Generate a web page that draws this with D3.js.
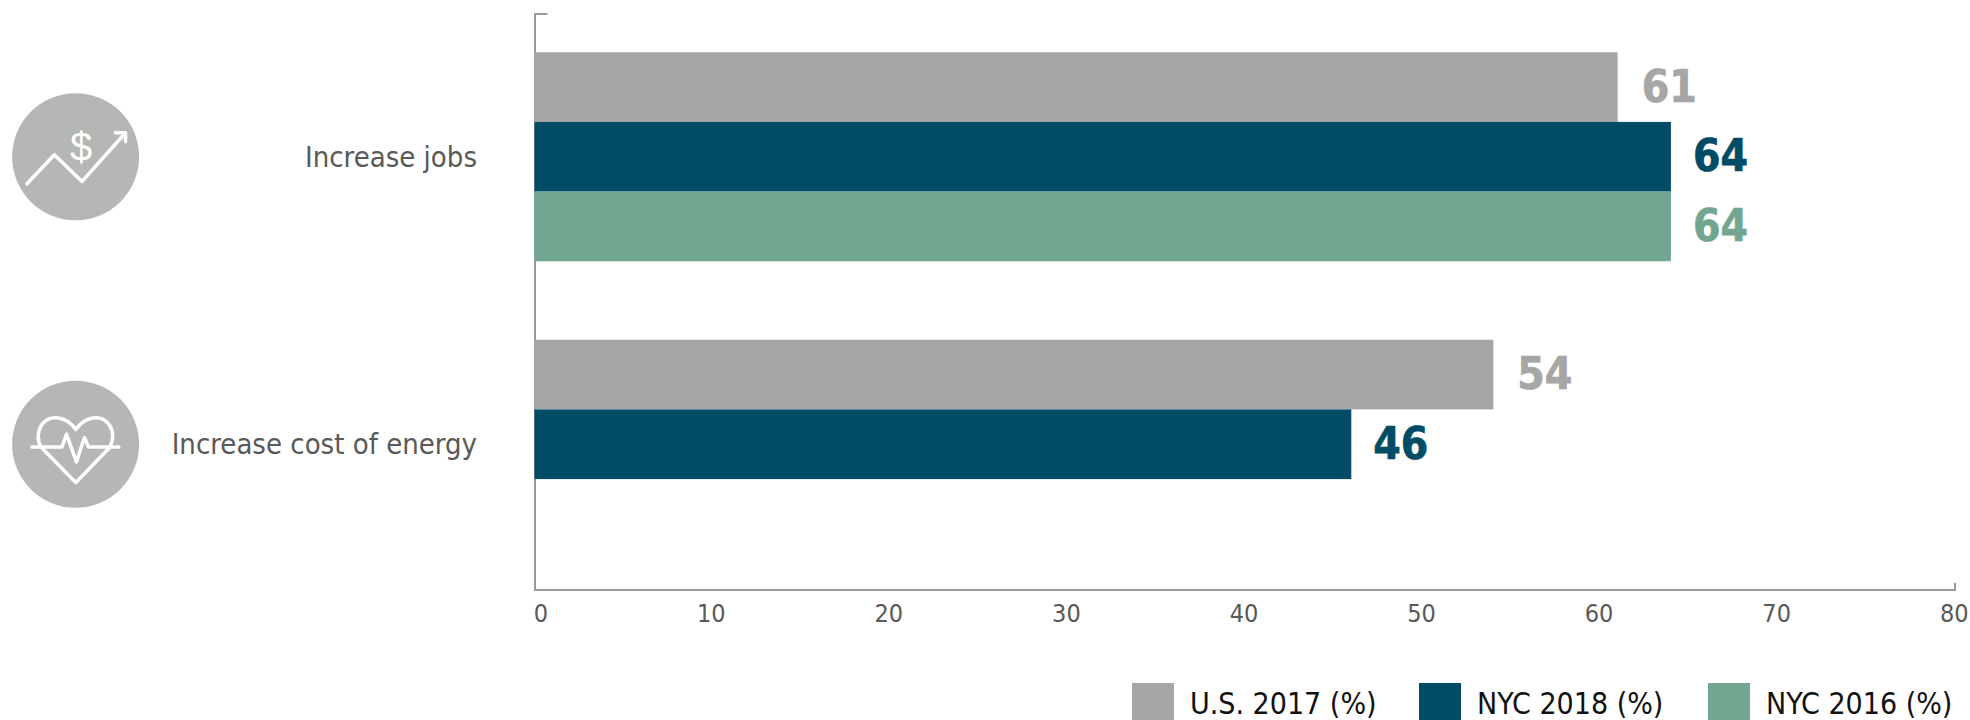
<!DOCTYPE html>
<html><head><meta charset="utf-8">
<script src="https://cdn.jsdelivr.net/npm/d3@7"></script>
<style>
html,body{margin:0;padding:0;background:#fff;overflow:hidden}
text{font-family:"DejaVu Sans Condensed","DejaVu Sans",sans-serif;font-stretch:condensed}
</style></head><body><svg id="c" width="1970" height="720"></svg>
<script>
const categories = ["Increase jobs", "Increase cost of energy"];
const seriesNames = ["U.S. 2017 (%)", "NYC 2018 (%)", "NYC 2016 (%)"];
const seriesColors = ["#a6a6a6", "#004b66", "#72a691"];
const usValues = [61, 54];
const nyc2018Values = [64, 46];
const nyc2016Values = [64, null];
const tickValues = [0, 10, 20, 30, 40, 50, 60, 70, 80];
const legendSwatchX = [1132, 1419, 1708];
const labelGaps = [24, 22, 22];

const seriesValues = [usValues, nyc2018Values, nyc2016Values];
const svg = d3.select("#c");
const x = d3.scaleLinear().domain([0, 80]).range([534.5, 1955]);
const y0 = d3.scaleBand().domain(categories).range([13, 588]).paddingInner(0.273).paddingOuter(0.1365);
const y1 = d3.scaleBand().domain(seriesNames).range([0, y0.bandwidth()]);

// axis
const axisY = 590, topY = 14;
const axisG = svg.append("g").attr("transform", `translate(0,${axisY})`)
  .call(d3.axisBottom(x).tickValues(tickValues).tickSize(0).tickPadding(14));
axisG.select(".domain").remove();
axisG.selectAll("text")
  .attr("font-family", null)
  .attr("font-size", 25)
  .attr("fill", "#595959")
  .attr("dx", d => d === 0 ? 6 : -1.3);
svg.append("path")
  .attr("d", `M${x(0)+13},${topY}H${x(0)+0.5}V${axisY}H${x(80)}V${axisY-7}`)
  .attr("fill", "none").attr("stroke", "#999").attr("stroke-width", 2);

// bars & labels
categories.forEach((cat, ci) => {
  const g = svg.append("g");
  const rows = seriesNames.map((s, si) => ({s, si, v: seriesValues[si][ci]})).filter(d => d.v != null);
  g.selectAll("rect").data(rows).join("rect")
    .attr("x", x(0))
    .attr("y", d => y0(cat) + y1(d.s))
    .attr("width", d => x(d.v) - x(0))
    .attr("height", y1.bandwidth())
    .attr("fill", d => seriesColors[d.si]);
  g.selectAll("text").data(rows).join("text")
    .attr("x", d => x(d.v) + labelGaps[d.si])
    .attr("y", d => y0(cat) + y1(d.s) + y1.bandwidth() / 2)
    .attr("dy", "0.33em")
    .attr("font-size", 44).attr("font-weight", 700)
    .attr("fill", d => seriesColors[d.si])
    .attr("stroke", d => seriesColors[d.si]).attr("stroke-width", 0.7)
    .text(d => d.v);
  svg.append("text")
    .attr("x", 477)
    .attr("y", y0(cat) + y0.bandwidth() / 2)
    .attr("dy", "0.35em")
    .attr("text-anchor", "end")
    .attr("font-size", 29)
    .attr("fill", "#595959")
    .text(cat);
  // icon disc
  svg.append("circle")
    .attr("cx", 75.6)
    .attr("cy", y0(cat) + y0.bandwidth() / 2)
    .attr("r", 63.5)
    .attr("fill", "#b5b7b5");
});

// icons
const iconStroke = g => g.attr("fill", "none").attr("stroke", "#fff").attr("stroke-width", 3.5)
  .attr("stroke-linecap", "round").attr("stroke-linejoin", "round");
const cy1 = y0(categories[0]) + y0.bandwidth() / 2, cy2 = y0(categories[1]) + y0.bandwidth() / 2;
const i1 = svg.append("g").attr("transform", `translate(0,${cy1 - 156})`).call(iconStroke);
i1.append("path").attr("d", "M27,183L54.4,154L82,180.7L124.7,133");
i1.append("path").attr("d", "M115.4,132H125.5V141");
svg.append("text").attr("x", 81).attr("y", cy1 - 9.5).attr("dy", "0.35em")
  .attr("text-anchor", "middle").attr("fill", "#fff")
  .style("font-family", "'Liberation Sans'").style("font-stretch", "normal").attr("font-size", 40).text("$");
const i2 = svg.append("g").attr("transform", `translate(0,${cy2 - 444})`).call(iconStroke);
i2.append("path").attr("d", "M43,449L75.8,482.3L109,448C114,440 114,430 108,423C101,415 86,415 75.8,429.3C66,415 50,415 43,423C37,430 37,440 41,447");
i2.append("path").attr("d", "M32,446.7H62L66.5,434L76.4,461.7L84.4,437.3L88.5,446.7H118.8");

// legend
const legend = svg.append("g").selectAll("g").data(seriesNames).join("g")
  .attr("transform", (d, i) => `translate(${legendSwatchX[i]},0)`);
legend.append("rect").attr("y", 683).attr("width", 42).attr("height", 37)
  .attr("fill", (d, i) => seriesColors[i]);
legend.append("text").attr("x", 58).attr("y", 703).attr("dy", "0.35em")
  .attr("font-size", 30).attr("fill", "#111").text(d => d);
</script></body></html>
